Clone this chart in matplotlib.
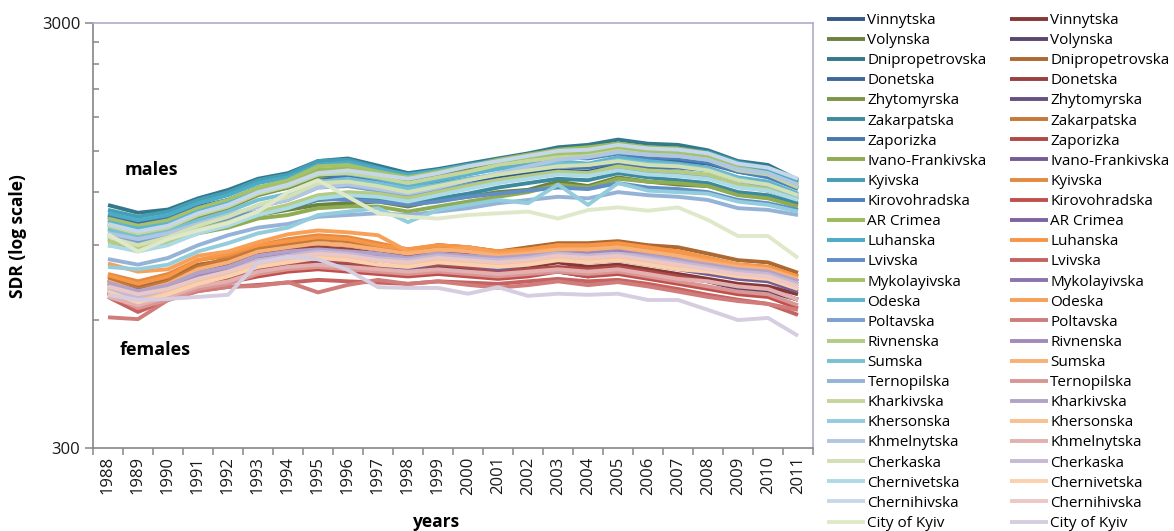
import matplotlib
matplotlib.use("Agg")
import matplotlib.pyplot as plt
from matplotlib.ticker import FixedLocator, NullFormatter, FixedFormatter
import numpy as np

plt.rcParams['font.family'] = ['Open Sans', 'DejaVu Sans']

years = list(range(1988, 2012))
regions = ["Vinnytska", "Volynska", "Dnipropetrovska", "Donetska", "Zhytomyrska",
           "Zakarpatska", "Zaporizka", "Ivano-Frankivska", "Kyivska", "Kirovohradska",
           "AR Crimea", "Luhanska", "Lvivska", "Mykolayivska", "Odeska", "Poltavska",
           "Rivnenska", "Sumska", "Ternopilska", "Kharkivska", "Khersonska",
           "Khmelnytska", "Cherkaska", "Chernivetska", "Chernihivska", "City of Kyiv"]

# SDR, males (rows follow `regions`, columns follow `years`)
male_sdr = [
    [1010, 975, 1000, 1070, 1110, 1190, 1230, 1300, 1280, 1250, 1215, 1240, 1270, 1300, 1330, 1350, 1340, 1390, 1360, 1340, 1310, 1240, 1210, 1150],
    [930, 900, 945, 985, 1010, 1060, 1090, 1120, 1130, 1140, 1110, 1150, 1170, 1200, 1215, 1270, 1240, 1300, 1270, 1250, 1240, 1190, 1170, 1120],
    [1119, 1073, 1092, 1160, 1214, 1290, 1330, 1420, 1440, 1385, 1330, 1360, 1400, 1440, 1480, 1530, 1550, 1595, 1560, 1550, 1505, 1420, 1390, 1282],
    [1060, 1020, 1040, 1110, 1150, 1230, 1270, 1350, 1360, 1310, 1280, 1310, 1350, 1380, 1400, 1440, 1450, 1480, 1440, 1420, 1400, 1340, 1310, 1230],
    [985, 950, 980, 1050, 1100, 1180, 1230, 1300, 1330, 1290, 1250, 1300, 1350, 1400, 1460, 1500, 1510, 1545, 1520, 1500, 1470, 1390, 1350, 1270],
    [940, 910, 940, 990, 1020, 1070, 1100, 1150, 1160, 1160, 1120, 1160, 1190, 1230, 1260, 1290, 1280, 1330, 1300, 1280, 1260, 1200, 1180, 1130],
    [1050, 1000, 1040, 1100, 1150, 1220, 1250, 1320, 1300, 1270, 1240, 1260, 1290, 1320, 1350, 1380, 1370, 1410, 1380, 1370, 1350, 1280, 1250, 1180],
    [900, 880, 910, 960, 990, 1040, 1060, 1100, 1110, 1110, 1080, 1110, 1140, 1170, 1200, 1250, 1230, 1290, 1270, 1260, 1240, 1180, 1160, 1110],
    [1090, 1050, 1080, 1150, 1200, 1280, 1320, 1420, 1430, 1370, 1310, 1350, 1390, 1430, 1470, 1500, 1510, 1560, 1530, 1520, 1490, 1410, 1370, 1270],
    [1030, 990, 1020, 1090, 1140, 1210, 1250, 1340, 1350, 1320, 1270, 1300, 1340, 1370, 1410, 1450, 1440, 1480, 1450, 1440, 1410, 1340, 1300, 1220],
    [1000, 960, 990, 1070, 1120, 1210, 1260, 1350, 1370, 1320, 1290, 1330, 1380, 1430, 1470, 1510, 1530, 1560, 1530, 1520, 1480, 1390, 1360, 1250],
    [1070, 1030, 1060, 1130, 1180, 1260, 1300, 1390, 1410, 1360, 1320, 1350, 1390, 1420, 1450, 1470, 1480, 1520, 1500, 1490, 1460, 1380, 1350, 1260],
    [960, 920, 950, 1000, 1040, 1080, 1110, 1160, 1150, 1140, 1120, 1140, 1170, 1190, 1210, 1230, 1220, 1260, 1230, 1220, 1200, 1150, 1130, 1090],
    [1040, 1000, 1030, 1100, 1150, 1230, 1280, 1380, 1390, 1340, 1300, 1340, 1380, 1420, 1450, 1480, 1490, 1520, 1490, 1480, 1450, 1370, 1330, 1240],
    [1020, 985, 1010, 1080, 1130, 1200, 1240, 1320, 1330, 1290, 1240, 1280, 1320, 1360, 1390, 1420, 1400, 1450, 1420, 1400, 1370, 1300, 1270, 1190],
    [950, 915, 945, 1000, 1050, 1110, 1150, 1230, 1240, 1210, 1180, 1210, 1250, 1280, 1310, 1340, 1330, 1370, 1340, 1330, 1310, 1250, 1230, 1160],
    [920, 890, 920, 980, 1020, 1080, 1120, 1180, 1200, 1190, 1160, 1200, 1240, 1280, 1310, 1340, 1330, 1380, 1350, 1340, 1320, 1250, 1220, 1160],
    [980, 940, 970, 1030, 1080, 1150, 1190, 1270, 1290, 1260, 1220, 1250, 1290, 1320, 1360, 1400, 1390, 1430, 1400, 1390, 1360, 1290, 1250, 1170],
    [835, 810, 840, 900, 950, 990, 1010, 1050, 1060, 1070, 1060, 1080, 1100, 1130, 1150, 1170, 1160, 1200, 1180, 1170, 1150, 1100, 1090, 1060],
    [1000, 960, 990, 1060, 1110, 1190, 1240, 1320, 1330, 1300, 1260, 1300, 1340, 1390, 1420, 1450, 1460, 1500, 1470, 1460, 1430, 1350, 1320, 1230],
    [800, 790, 810, 870, 910, 960, 990, 1060, 1080, 1100, 1020, 1090, 1120, 1150, 1130, 1250, 1120, 1260, 1210, 1200, 1190, 1140, 1120, 1080],
    [960, 930, 960, 1010, 1060, 1110, 1150, 1230, 1250, 1220, 1190, 1230, 1280, 1330, 1380, 1430, 1450, 1490, 1470, 1460, 1430, 1360, 1330, 1250],
    [940, 900, 940, 1000, 1050, 1120, 1170, 1260, 1270, 1240, 1200, 1240, 1280, 1320, 1350, 1380, 1390, 1420, 1390, 1380, 1350, 1280, 1250, 1180],
    [900, 870, 900, 960, 1000, 1060, 1100, 1160, 1180, 1170, 1140, 1180, 1220, 1260, 1290, 1320, 1310, 1350, 1320, 1310, 1290, 1230, 1210, 1150],
    [1010, 970, 1000, 1070, 1120, 1200, 1250, 1330, 1350, 1320, 1290, 1330, 1380, 1420, 1460, 1500, 1510, 1550, 1520, 1510, 1480, 1400, 1370, 1290],
    [955, 870, 930, 975, 1015, 1080, 1200, 1280, 1170, 1070, 1050, 1040, 1060, 1070, 1080, 1040, 1089, 1105, 1085, 1105, 1032, 946, 946, 840],
]

# SDR, females
female_sdr = [
    [700, 660, 690, 730, 760, 800, 820, 830, 820, 800, 790, 810, 800, 790, 800, 820, 800, 810, 790, 770, 750, 730, 720, 690],
    [720, 690, 710, 750, 770, 800, 810, 820, 810, 800, 780, 800, 790, 770, 790, 780, 760, 790, 770, 760, 740, 710, 700, 670],
    [760, 720, 750, 810, 830, 880, 900, 910, 900, 880, 870, 900, 890, 870, 890, 910, 910, 920, 900, 890, 860, 830, 820, 775],
    [740, 700, 730, 780, 810, 860, 880, 890, 880, 860, 850, 870, 860, 840, 850, 870, 860, 870, 850, 840, 810, 780, 770, 730],
    [745, 710, 740, 790, 810, 850, 870, 880, 870, 860, 840, 860, 850, 840, 850, 860, 850, 870, 850, 840, 810, 790, 780, 740],
    [750, 710, 740, 800, 840, 890, 910, 930, 920, 890, 870, 890, 880, 860, 870, 890, 890, 900, 880, 870, 840, 810, 800, 760],
    [700, 650, 680, 720, 750, 790, 810, 830, 820, 800, 790, 810, 800, 780, 790, 800, 790, 800, 780, 760, 740, 720, 710, 670],
    [710, 680, 700, 740, 760, 800, 820, 840, 830, 810, 790, 820, 810, 790, 810, 830, 820, 830, 810, 790, 770, 750, 740, 700],
    [770, 740, 770, 830, 850, 900, 930, 950, 940, 910, 880, 900, 890, 870, 880, 900, 890, 900, 880, 860, 830, 810, 800, 760],
    [695, 640, 680, 715, 735, 760, 780, 790, 780, 770, 760, 770, 760, 750, 760, 780, 760, 770, 750, 730, 710, 690, 680, 640],
    [730, 700, 720, 770, 800, 840, 860, 870, 860, 850, 830, 850, 840, 820, 840, 850, 840, 850, 830, 820, 800, 770, 760, 720],
    [765, 730, 760, 830, 860, 900, 920, 940, 930, 900, 880, 900, 890, 870, 880, 900, 900, 910, 890, 870, 840, 810, 800, 760],
    [680, 627, 669, 702, 718, 726, 735, 746, 740, 735, 730, 740, 735, 730, 740, 750, 740, 746, 730, 710, 688, 670, 655, 617],
    [735, 705, 725, 770, 800, 850, 860, 870, 860, 840, 830, 840, 830, 820, 830, 850, 830, 840, 830, 810, 790, 770, 750, 710],
    [815, 780, 790, 850, 870, 915, 955, 975, 965, 950, 870, 870, 890, 860, 870, 880, 880, 890, 870, 850, 830, 810, 790, 740],
    [609, 603, 669, 702, 718, 722, 737, 697, 726, 746, 730, 740, 726, 715, 725, 740, 725, 737, 720, 700, 680, 665, 655, 634],
    [730, 690, 720, 760, 790, 830, 850, 870, 860, 850, 830, 850, 840, 830, 850, 870, 860, 880, 860, 840, 810, 790, 780, 740],
    [740, 700, 730, 790, 820, 870, 890, 910, 900, 880, 860, 880, 870, 850, 860, 880, 880, 890, 870, 850, 820, 800, 790, 750],
    [690, 640, 670, 710, 730, 770, 790, 800, 790, 780, 770, 780, 770, 760, 770, 780, 770, 780, 760, 740, 720, 700, 690, 650],
    [735, 700, 725, 775, 800, 850, 870, 880, 870, 860, 840, 860, 850, 840, 850, 860, 850, 860, 850, 830, 810, 790, 780, 740],
    [710, 670, 700, 740, 770, 810, 830, 850, 840, 830, 810, 830, 820, 810, 820, 840, 830, 840, 820, 800, 790, 770, 760, 720],
    [680, 650, 680, 720, 740, 780, 800, 810, 800, 790, 780, 790, 780, 770, 780, 790, 780, 790, 770, 750, 740, 720, 710, 670],
    [710, 680, 710, 750, 780, 830, 850, 870, 860, 840, 830, 850, 840, 830, 840, 860, 850, 860, 840, 820, 800, 780, 770, 730],
    [700, 660, 690, 730, 760, 800, 820, 840, 830, 810, 800, 820, 810, 800, 810, 830, 820, 830, 810, 790, 780, 760, 750, 710],
    [720, 690, 710, 750, 780, 820, 840, 860, 850, 830, 820, 840, 830, 820, 830, 850, 840, 850, 830, 810, 790, 770, 760, 720],
    [688, 669, 673, 680, 688, 818, 845, 834, 787, 717, 714, 714, 692, 717, 684, 692, 688, 692, 669, 669, 634, 600, 607, 551],
]

# ---- colours: Excel-like shade ramps per accent hue ----
def shade(hexcol, t):
    c = np.array([int(hexcol[i:i + 2], 16) for i in (1, 3, 5)], dtype=float)
    if t < 0:
        c = c * (1 + t)
    else:
        c = c + (255 - c) * t
    return '#%02x%02x%02x' % tuple(int(round(v)) for v in c)

ramp = [-0.3, -0.3, -0.3, -0.2, -0.2, -0.2, -0.08, -0.08, -0.08,
        0.0, 0.0, 0.0, 0.1, 0.1, 0.1, 0.25, 0.25, 0.25,
        0.4, 0.4, 0.4, 0.55, 0.55, 0.55, 0.68, 0.68]
male_hues = ['#4F81BD', '#9BBB59', '#4BACC6']
female_hues = ['#C0504D', '#8064A2', '#F79646']
male_colors = [shade(male_hues[i % 3], ramp[i]) for i in range(len(regions))]
female_colors = [shade(female_hues[i % 3], ramp[i]) for i in range(len(regions))]

W, H = 1174, 531
fig = plt.figure(figsize=(W / 100, H / 100), dpi=100)
ax = fig.add_axes([93 / W, 1 - 448 / H, 720 / W, 425 / H])

x = np.arange(len(years))
lw = 2.8
male_handles, female_handles = [], []
for i, name in enumerate(regions):
    lm, = ax.plot(x, male_sdr[i], color=male_colors[i], lw=lw, solid_joinstyle='round', solid_capstyle='butt')
    lf, = ax.plot(x, female_sdr[i], color=female_colors[i], lw=lw, solid_joinstyle='round', solid_capstyle='butt')
    male_handles.append(lm)
    female_handles.append(lf)

ax.set_yscale('log')
ax.set_ylim(300, 3000)
ax.set_xlim(-0.5, len(years) - 0.5)

ax.yaxis.set_major_locator(FixedLocator([300, 3000]))
ax.yaxis.set_major_formatter(FixedFormatter(['300', '3000']))
ax.yaxis.set_minor_locator(FixedLocator([600, 900, 1200, 1500, 1800, 2100, 2400, 2700]))
ax.yaxis.set_minor_formatter(NullFormatter())
ax.tick_params(axis='y', which='major', direction='out', length=6, width=1.1,
               color='#868686', labelsize=12, pad=3, labelcolor='#1a1a1a')
ax.tick_params(axis='y', which='minor', direction='in', length=4, width=1.1, color='#868686')

ax.xaxis.set_major_locator(FixedLocator(np.arange(-0.5, len(years), 1.0)))
ax.xaxis.set_major_formatter(NullFormatter())
ax.xaxis.set_minor_locator(FixedLocator(x))
ax.xaxis.set_minor_formatter(FixedFormatter([str(y) for y in years]))
ax.tick_params(axis='x', which='major', direction='out', length=5, width=1.1, color='#868686')
ax.tick_params(axis='x', which='minor', length=0, labelsize=12, pad=6,
               labelrotation=90, labelcolor='#1a1a1a')

for s in ('left', 'bottom'):
    ax.spines[s].set_color('#868686')
    ax.spines[s].set_linewidth(1.2)
for s in ('top', 'right'):
    ax.spines[s].set_color('#b4a9cc')
    ax.spines[s].set_linewidth(1.2)

fig.text(125 / W, 1 - 170 / H, 'males', fontsize=13, fontweight='bold', va='center', ha='left')
fig.text(120 / W, 1 - 350 / H, 'females', fontsize=13, fontweight='bold', va='center', ha='left')
fig.text(18 / W, 1 - 236 / H, 'SDR (log scale)', fontsize=12.5, fontweight='bold',
         rotation=90, va='center', ha='center')
fig.text(437 / W, 1 - 513 / H, 'years', fontsize=12.5, fontweight='bold', va='top', ha='center')

leg = fig.legend(male_handles + female_handles, regions + regions, ncol=2,
                 loc='upper left', bbox_to_anchor=(827 / W, 1 - 13 / H),
                 frameon=False, fontsize=11, handlelength=2.5, handletextpad=0.15,
                 columnspacing=1.5, labelspacing=0.335, borderpad=0, borderaxespad=0)
for line in leg.get_lines():
    line.set_linewidth(2.8)

fig.savefig('out.png', dpi=100)
